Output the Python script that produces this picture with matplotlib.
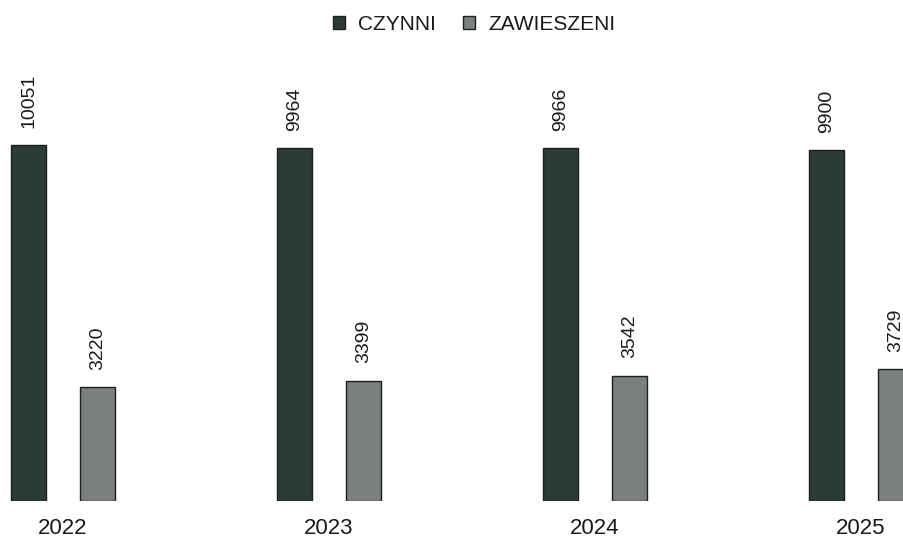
import matplotlib
matplotlib.use("Agg")
import matplotlib.pyplot as plt
import numpy as np
from matplotlib.patches import Patch

years = ["2022", "2023", "2024", "2025"]
series_names = ["CZYNNI", "ZAWIESZENI"]
czynni = [10051, 9964, 9966, 9900]
zawieszeni = [3220, 3399, 3542, 3729]

colors = ["#2a3c34", "#7b807c"]
edge = "#1c1f1d"

plt.rcParams["font.family"] = ["Liberation Sans", "DejaVu Sans"]

fig = plt.figure(figsize=(9.04, 5.40), dpi=100)
ax = fig.add_axes([0, 39 / 540, 1, 501 / 540])

x = np.arange(len(years))
off = 0.129
w = 0.132
b1 = ax.bar(x - off, czynni, w, color=colors[0], edgecolor=edge, linewidth=1.0)
b2 = ax.bar(x + off, zawieszeni, w, color=colors[1], edgecolor=edge, linewidth=1.0)

for bars, vals in ((b1, czynni), (b2, zawieszeni)):
    for r, v in zip(bars, vals):
        ax.annotate(str(v), (r.get_x() + r.get_width() / 2, r.get_height()),
                    xytext=(0, 12.5), textcoords="offset points",
                    rotation=90, ha="center", va="bottom",
                    fontsize=14, color="#1a1a1a")

ax.set_xlim(-63 / 266, (904 - 63) / 266)
ax.set_ylim(0, 14145)
ax.set_xticks(x)
ax.set_xticklabels(years, fontsize=16, color="#1a1a1a")
ax.tick_params(axis="x", length=0, pad=12.5)
ax.set_yticks([])
for s in ax.spines.values():
    s.set_visible(False)

handles = [Patch(facecolor=colors[0], edgecolor=edge, linewidth=1.0),
           Patch(facecolor=colors[1], edgecolor=edge, linewidth=1.0)]
fig.legend(handles, series_names, loc="upper center",
           bbox_to_anchor=(474 / 904, 1.0), ncol=2, frameon=False,
           fontsize=15, handlelength=0.6, handleheight=0.6,
           handletextpad=0.6, columnspacing=1.3, borderaxespad=0.3,
           labelcolor="#1a1a1a")

fig.savefig("out.png", dpi=100)
